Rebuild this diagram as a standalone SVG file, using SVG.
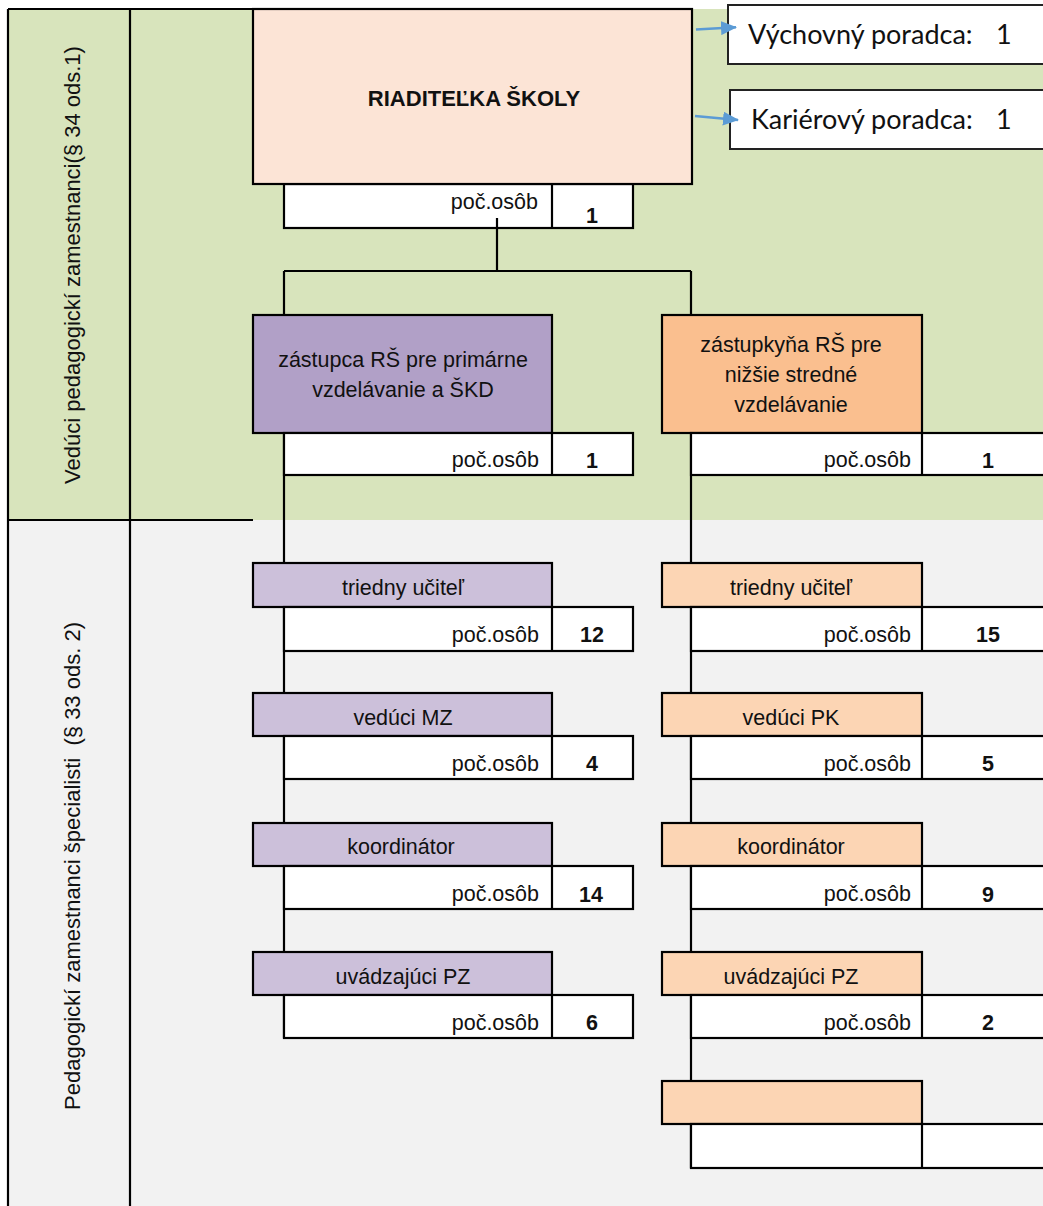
<svg xmlns="http://www.w3.org/2000/svg" width="1043" height="1206" viewBox="0 0 1043 1206">
<style>
.t{font-family:"Liberation Sans",Arial,sans-serif;font-size:21.5px;fill:#111}
.v{font-family:"Liberation Sans",Arial,sans-serif;font-size:22px;fill:#111}
.b{font-family:"Liberation Sans",Arial,sans-serif;font-size:21.5px;font-weight:bold;fill:#111}
.c{font-family:Lato,"Liberation Sans",sans-serif;font-size:27px;fill:#111}
.box{stroke:#000;stroke-width:2.2}
.adv{fill:#fff;stroke:#222;stroke-width:2}
.w{fill:#fff}
.dir{fill:#fce4d6}
.p1{fill:#b1a0c7}
.o1{fill:#fabf8f}
.p2{fill:#ccc0da}
.o2{fill:#fcd5b4}
.ln{stroke:#000;stroke-width:2.2;fill:none}
.arr{stroke:#5b9bd5;stroke-width:2.5;fill:none}
</style>
<defs>
<marker id="ah" markerWidth="16" markerHeight="14" refX="15" refY="7" orient="auto" markerUnits="userSpaceOnUse">
<path d="M0,0 L16,7 L0,14 Z" fill="#5b9bd5"/>
</marker>
</defs>
<rect x="0" y="0" width="1043" height="1206" fill="#fff"/>
<g id="background">
<rect x="8" y="9" width="1035" height="511" fill="#d8e4bc"/>
<rect x="8" y="520" width="1035" height="686" fill="#f2f2f2"/>
<line class="ln" x1="8" y1="9" x2="692" y2="9"/>
<line class="ln" x1="8" y1="9" x2="8" y2="1206"/>
<line class="ln" x1="130" y1="9" x2="130" y2="1206"/>
<line class="ln" x1="8" y1="520" x2="253" y2="520"/>
<text class="v" transform="translate(80,265) rotate(-90)" text-anchor="middle">Vedúci pedagogickí zamestnanci(§ 34 ods.1)</text>
<text class="v" transform="translate(80,866) rotate(-90)" text-anchor="middle" xml:space="preserve">Pedagogickí zamestnanci špecialisti  (§ 33 ods. 2)</text>
</g>
<g id="connectors">
<line class="ln" x1="497" y1="218" x2="497" y2="271"/>
<line class="ln" x1="284" y1="271" x2="691" y2="271"/>
<line class="ln" x1="284" y1="271" x2="284" y2="1038"/>
<line class="ln" x1="691" y1="271" x2="691" y2="1168"/>
</g>
<g id="director">
<rect class="box w" x="284" y="184" width="349" height="44"/>
<line class="ln" x1="552" y1="184" x2="552" y2="228"/>
<line class="ln" x1="497" y1="218" x2="497" y2="228"/>
<text class="t" x="538" y="209" text-anchor="end">poč.osôb</text>
<text class="b" x="592" y="223" text-anchor="middle">1</text>
<rect class="box dir" x="253" y="9" width="439" height="175"/>
<text class="b" x="474" y="106" text-anchor="middle" style="font-size:22px">RIADITEĽKA ŠKOLY</text>
</g>
<g id="vychovny">
<rect class="adv" x="728" y="5" width="330" height="59"/>
<text class="c" x="748" y="44">Výchovný poradca: <tspan x="996">1</tspan></text>
</g>
<g id="karierovy">
<rect class="adv" x="730" y="90" width="330" height="59"/>
<text class="c" x="751" y="129">Kariérový poradca: <tspan x="996">1</tspan></text>
</g>
<g id="advisor-arrows">
<line class="arr" x1="696" y1="29.5" x2="736" y2="27.3" marker-end="url(#ah)"/>
<line class="arr" x1="695" y1="116" x2="738" y2="120" marker-end="url(#ah)"/>
</g>
<g id="deputy-primary">
<rect class="box p1" x="253" y="315" width="299" height="118"/>
<text class="t" x="403" y="367" text-anchor="middle">zástupca RŠ pre primárne</text>
<text class="t" x="403" y="397" text-anchor="middle">vzdelávanie a ŠKD</text>
<rect class="box w" x="284" y="433" width="349" height="42"/>
<line class="ln" x1="552" y1="433" x2="552" y2="475"/>
<text class="t" x="539" y="467" text-anchor="end">poč.osôb</text>
<text class="b" x="592" y="468" text-anchor="middle">1</text>
</g>
<g id="deputy-secondary">
<rect class="box o1" x="662" y="315" width="260" height="118"/>
<text class="t" x="791" y="352" text-anchor="middle">zástupkyňa RŠ pre</text>
<text class="t" x="791" y="382" text-anchor="middle">nižšie stredné</text>
<text class="t" x="791" y="412" text-anchor="middle">vzdelávanie</text>
<rect class="box w" x="691" y="433" width="363" height="42"/>
<line class="ln" x1="922" y1="433" x2="922" y2="475"/>
<text class="t" x="911" y="467" text-anchor="end">poč.osôb</text>
<text class="b" x="988" y="468" text-anchor="middle">1</text>
</g>
<g id="p-triedny">
<rect class="box p2" x="253" y="563" width="299" height="44"/>
<text class="t" x="403" y="595" text-anchor="middle">triedny učiteľ</text>
<rect class="box w" x="284" y="607" width="349" height="44"/>
<line class="ln" x1="552" y1="607" x2="552" y2="651"/>
<text class="t" x="539" y="642" text-anchor="end">poč.osôb</text>
<text class="b" x="592" y="642" text-anchor="middle">12</text>
</g>
<g id="p-veduci">
<rect class="box p2" x="253" y="693" width="299" height="43"/>
<text class="t" x="403" y="725" text-anchor="middle">vedúci MZ</text>
<rect class="box w" x="284" y="736" width="349" height="43"/>
<line class="ln" x1="552" y1="736" x2="552" y2="779"/>
<text class="t" x="539" y="771" text-anchor="end">poč.osôb</text>
<text class="b" x="592" y="771" text-anchor="middle">4</text>
</g>
<g id="p-koordinator">
<rect class="box p2" x="253" y="823" width="299" height="43"/>
<text class="t" x="401" y="854" text-anchor="middle">koordinátor</text>
<rect class="box w" x="284" y="866" width="349" height="43"/>
<line class="ln" x1="552" y1="866" x2="552" y2="909"/>
<text class="t" x="539" y="901" text-anchor="end">poč.osôb</text>
<text class="b" x="591" y="902" text-anchor="middle">14</text>
</g>
<g id="p-uvadzajuci">
<rect class="box p2" x="253" y="952" width="299" height="43"/>
<text class="t" x="403" y="984" text-anchor="middle">uvádzajúci PZ</text>
<rect class="box w" x="284" y="995" width="349" height="43"/>
<line class="ln" x1="552" y1="995" x2="552" y2="1038"/>
<text class="t" x="539" y="1030" text-anchor="end">poč.osôb</text>
<text class="b" x="592" y="1030" text-anchor="middle">6</text>
</g>
<g id="o-triedny">
<rect class="box o2" x="662" y="563" width="260" height="44"/>
<text class="t" x="791" y="595" text-anchor="middle">triedny učiteľ</text>
<rect class="box w" x="691" y="607" width="363" height="44"/>
<line class="ln" x1="922" y1="607" x2="922" y2="651"/>
<text class="t" x="911" y="642" text-anchor="end">poč.osôb</text>
<text class="b" x="988" y="642" text-anchor="middle">15</text>
</g>
<g id="o-veduci">
<rect class="box o2" x="662" y="693" width="260" height="43"/>
<text class="t" x="791" y="725" text-anchor="middle">vedúci PK</text>
<rect class="box w" x="691" y="736" width="363" height="43"/>
<line class="ln" x1="922" y1="736" x2="922" y2="779"/>
<text class="t" x="911" y="771" text-anchor="end">poč.osôb</text>
<text class="b" x="988" y="771" text-anchor="middle">5</text>
</g>
<g id="o-koordinator">
<rect class="box o2" x="662" y="823" width="260" height="43"/>
<text class="t" x="791" y="854" text-anchor="middle">koordinátor</text>
<rect class="box w" x="691" y="866" width="363" height="43"/>
<line class="ln" x1="922" y1="866" x2="922" y2="909"/>
<text class="t" x="911" y="901" text-anchor="end">poč.osôb</text>
<text class="b" x="988" y="902" text-anchor="middle">9</text>
</g>
<g id="o-uvadzajuci">
<rect class="box o2" x="662" y="952" width="260" height="43"/>
<text class="t" x="791" y="984" text-anchor="middle">uvádzajúci PZ</text>
<rect class="box w" x="691" y="995" width="363" height="43"/>
<line class="ln" x1="922" y1="995" x2="922" y2="1038"/>
<text class="t" x="911" y="1030" text-anchor="end">poč.osôb</text>
<text class="b" x="988" y="1030" text-anchor="middle">2</text>
</g>
<g id="o-empty">
<rect class="box o2" x="662" y="1081" width="260" height="43"/>
<rect class="box w" x="691" y="1124" width="363" height="44"/>
<line class="ln" x1="922" y1="1124" x2="922" y2="1168"/>
</g>
</svg>
